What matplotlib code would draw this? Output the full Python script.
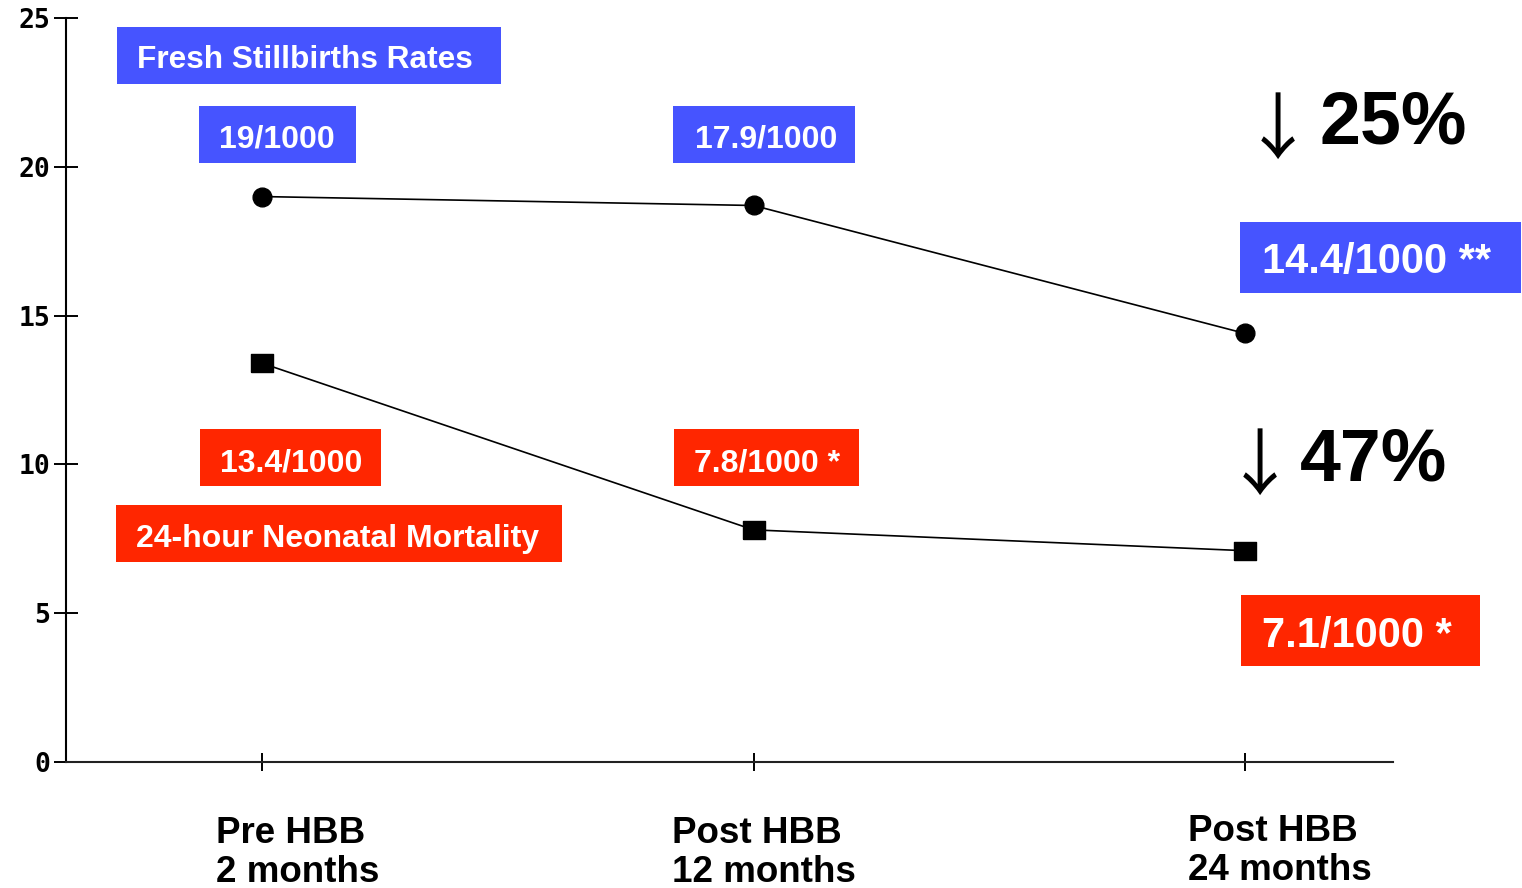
import numpy as np
import matplotlib
matplotlib.use('Agg')
import matplotlib.pyplot as plt
from matplotlib.patches import Rectangle

# --- data ---
periods = ['Pre HBB\n2 months', 'Post HBB\n12 months', 'Post HBB\n24 months']
stillbirth = [19.0, 18.7, 14.4]
neonatal = [13.4, 7.8, 7.1]
stillbirth_labels = ['19/1000', '17.9/1000', '14.4/1000 **']
neonatal_labels = ['13.4/1000', '7.8/1000 *', '7.1/1000 *']
reductions = ['25%', '47%']
yticks = [0, 5, 10, 15, 20, 25]

BLUE = '#4654ff'
RED = '#ff2600'
W, H = 1522, 888

plt.rcParams['font.family'] = ['Liberation Sans', 'DejaVu Sans']

fig = plt.figure(figsize=(W / 100, H / 100), dpi=100)
ax = fig.add_axes([66 / W, 1 - 762 / H, (1393 - 66) / W, (762 - 18) / H])

x = np.arange(len(periods))
sq = [(-1.2, -1), (1.2, -1), (1.2, 1), (-1.2, 1), (-1.2, -1)]
ax.plot(x, stillbirth, color='black', lw=1.2, marker='o', ms=13.5, zorder=3)
ax.plot(x, neonatal, color='black', lw=1.2, marker=sq, ms=16, zorder=3)

ax.set_xlim(-0.3988, 2.301)
ax.set_ylim(0, 25)
ax.set_xticks(x)
ax.set_xticklabels([])
ax.set_yticks(yticks)
ax.set_yticklabels([str(v) for v in yticks], family='DejaVu Sans Mono',
                   fontweight='bold', fontsize=19)
ax.tick_params(axis='y', direction='inout', length=17, width=1.4, pad=3)
ax.tick_params(axis='x', direction='inout', length=13, width=1.4)
for s in ['top', 'right']:
    ax.spines[s].set_visible(False)
for s in ['left', 'bottom']:
    ax.spines[s].set_linewidth(1.5)
ax.spines['bottom'].set_color('#222222')


def px(xp, yp):
    return xp / W, 1 - yp / H


def box(x0, y0, x1, y1, color, txt, tx, base, size):
    fig.patches.append(Rectangle((x0 / W, 1 - y1 / H), (x1 - x0) / W, (y1 - y0) / H,
                                 transform=fig.transFigure, facecolor=color,
                                 edgecolor='none', zorder=1))
    fig.text(*px(tx, base), txt, color='white', fontweight='bold', fontsize=size,
             ha='left', va='baseline', zorder=2)


# series titles
box(117, 27, 501, 84, BLUE, 'Fresh Stillbirths Rates', 137, 68, 22.8)
box(116, 505, 562, 562, RED, '24-hour Neonatal Mortality', 136, 547, 23)

# value labels
box(199, 106, 356, 163, BLUE, stillbirth_labels[0], 219, 148, 23)
box(673, 106, 855, 163, BLUE, stillbirth_labels[1], 695, 148, 23)
box(1240, 222, 1521, 293, BLUE, stillbirth_labels[2], 1262, 273, 30)
box(200, 429, 381, 486, RED, neonatal_labels[0], 220, 471, 23)
box(674, 429, 859, 486, RED, neonatal_labels[1], 694, 471, 23)
box(1241, 595, 1480, 666, RED, neonatal_labels[2], 1262, 647, 30)

# reductions
arrow_font = ['Noto Sans CJK SC', 'DejaVu Sans']
fig.text(*px(1278, 132), '\u2193', fontsize=52, ha='center', va='center',
         family=arrow_font)
fig.text(*px(1320, 143), reductions[0], fontsize=53, fontweight='bold',
         ha='left', va='baseline')
fig.text(*px(1260, 468), '\u2193', fontsize=52, ha='center', va='center',
         family=arrow_font)
fig.text(*px(1300, 480), reductions[1], fontsize=53, fontweight='bold',
         ha='left', va='baseline')

# period labels
label_pos = [(216, 843, 882), (672, 843, 882), (1188, 841, 880)]
for lab, (lx, b1, b2) in zip(periods, label_pos):
    l1, l2 = lab.split('\n')
    fig.text(*px(lx, b1), l1, fontsize=26.5, fontweight='bold', ha='left', va='baseline')
    fig.text(*px(lx, b2), l2, fontsize=26.5, fontweight='bold', ha='left', va='baseline')

fig.savefig('out.png', dpi=100)
